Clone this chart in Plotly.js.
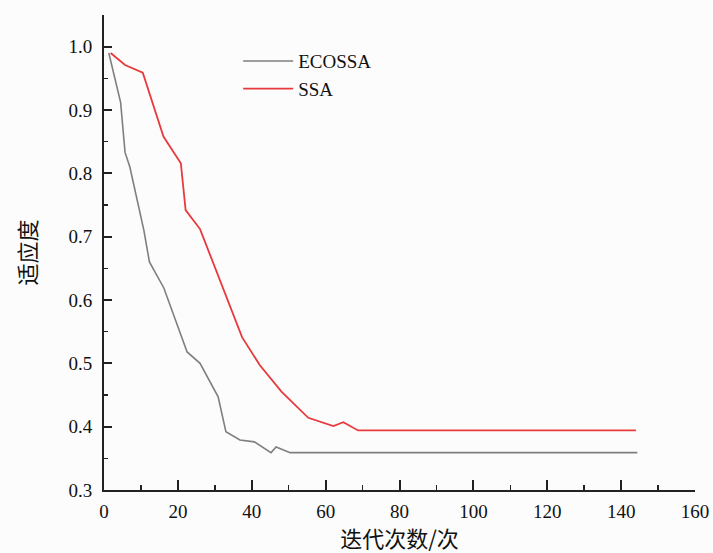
<!DOCTYPE html>
<html>
<head>
<meta charset="utf-8">
<script src="https://cdn.plot.ly/plotly-3.0.1.min.js"></script>
<style>html,body{margin:0;padding:0;background:#fcfcfc;}#chart{width:713px;height:553px;}</style>
</head>
<body>
<div id="chart"></div>
<script>
// ECOSSA (gray) convergence curve
const ecossaX = [1.3, 4.5, 5.7, 7, 10.8, 12.3, 16.2, 22.5, 26, 30.9, 33, 36.8, 40.7, 45.2, 46.6, 50.4, 144.4];
const ecossaY = [0.99, 0.912, 0.833, 0.81, 0.71, 0.66, 0.619, 0.518, 0.5, 0.447, 0.392, 0.379, 0.376, 0.359, 0.368, 0.359, 0.359];
// SSA (red) convergence curve
const ssaX = [1.8, 5.7, 10.5, 16.1, 20.8, 22.1, 26, 37.4, 42.2, 48.1, 55.3, 62.1, 64.8, 66.6, 68.8, 144];
const ssaY = [0.99, 0.971, 0.959, 0.858, 0.816, 0.742, 0.712, 0.541, 0.497, 0.455, 0.414, 0.401, 0.407, 0.401, 0.394, 0.394];

const seriesNames = ['ECOSSA', 'SSA'];
const xTitle = '迭代次数/次';
const yTitle = '适应度';
const xTickVals = [0, 20, 40, 60, 80, 100, 120, 140, 160];
const yTickVals = [0.3, 0.4, 0.5, 0.6, 0.7, 0.8, 0.9, 1.0];

const serif = 'Liberation Serif, Times New Roman, serif';
const cjk = 'Noto Sans CJK SC, sans-serif';

const traces = [
  {x: ecossaX, y: ecossaY, name: seriesNames[0], mode: 'lines', legendgroup: 'a',
   line: {color: '#7f7f7f', width: 1.6}},
  {x: ssaX, y: ssaY, name: seriesNames[1], mode: 'lines', legendgroup: 'b',
   line: {color: '#e8393c', width: 1.8}}
];

const layout = {
  width: 713, height: 553,
  margin: {l: 104, r: 18, t: 14.5, b: 63},
  paper_bgcolor: '#fcfcfc', plot_bgcolor: '#fcfcfc',
  showlegend: true,
  legend: {x: 0.227, y: 0.943, xanchor: 'left', yanchor: 'top', bgcolor: 'rgba(0,0,0,0)',
           font: {family: serif, size: 19, color: '#111'}, itemwidth: 50,
           traceorder: 'grouped', tracegroupgap: 0},
  xaxis: {
    range: [0, 160], tickvals: xTickVals, ticktext: xTickVals.map(String),
    ticks: 'inside', ticklen: 10, tickwidth: 2, tickcolor: '#222',
    minor: {dtick: 10, ticks: 'inside', ticklen: 5, tickwidth: 1.5, tickcolor: '#222'},
    showline: true, linecolor: '#222', linewidth: 2, showgrid: false, zeroline: false,
    tickfont: {family: serif, size: 19, color: '#111'}, ticklabelstandoff: 3,
    title: {text: xTitle, font: {family: cjk, size: 22, color: '#111'}, standoff: 17}
  },
  yaxis: {
    range: [0.3, 1.05], tickvals: yTickVals, ticktext: yTickVals.map(v => v.toFixed(1)),
    ticks: 'inside', ticklen: 8, tickwidth: 2, tickcolor: '#222',
    minor: {dtick: 0.05, ticks: 'inside', ticklen: 4, tickwidth: 1.5, tickcolor: '#222'},
    showline: true, linecolor: '#222', linewidth: 2, showgrid: false, zeroline: false,
    tickfont: {family: serif, size: 19, color: '#111'}, ticklabelstandoff: 6,
    title: {text: yTitle, font: {family: cjk, size: 22, color: '#111'}, standoff: 26}
  }
};

Plotly.newPlot('chart', traces, layout, {displayModeBar: false, staticPlot: true});
</script>
</body>
</html>
